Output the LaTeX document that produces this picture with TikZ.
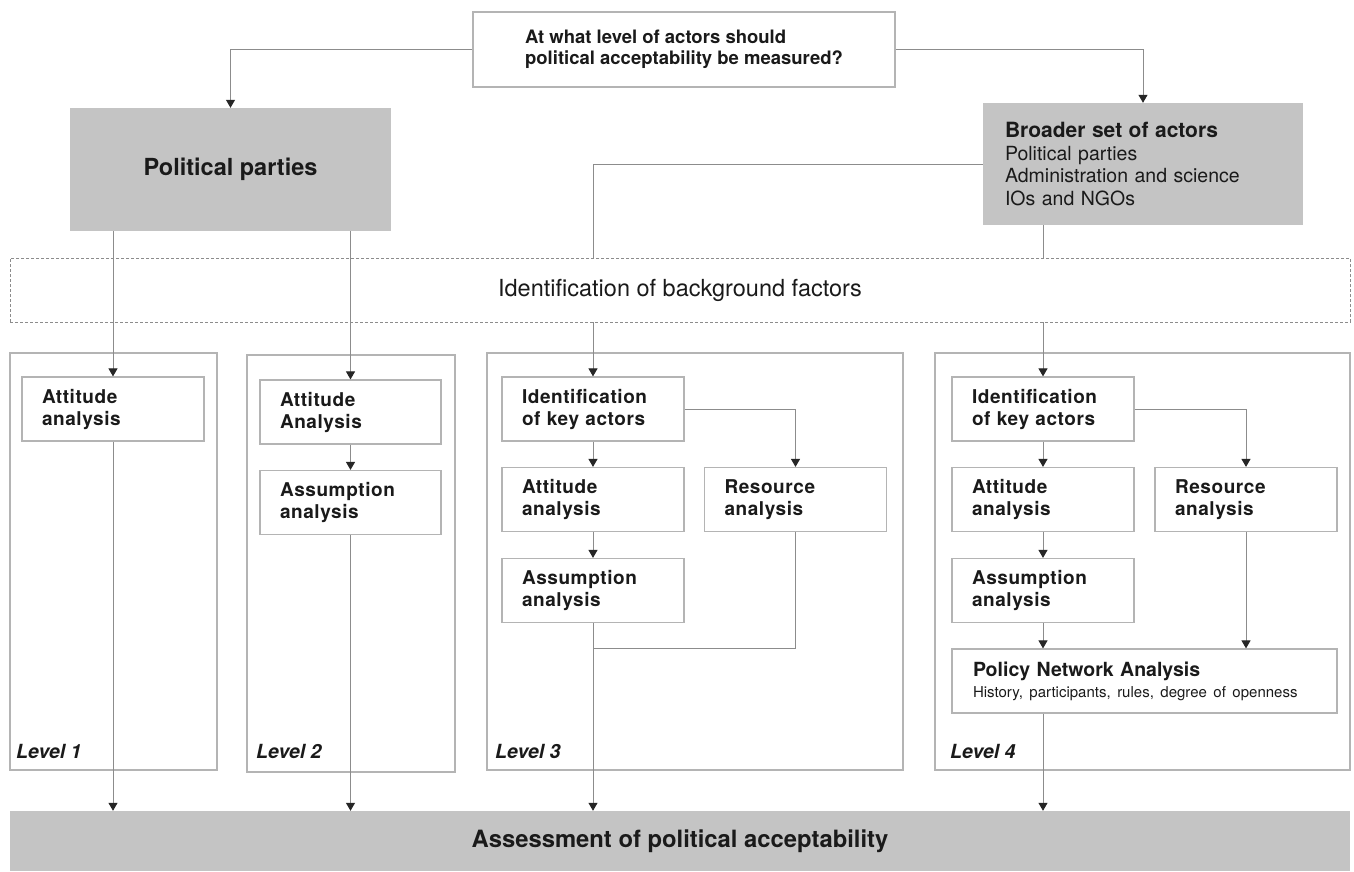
\documentclass[tikz,border=0pt]{standalone}
\usepackage{fontspec}
\setmainfont{TeX Gyre Heros}
\newfontfamily\boxfont[LetterSpace=3]{TeX Gyre Heros}
\usetikzlibrary{arrows.meta}
\definecolor{boxline}{HTML}{B4B4B4}
\definecolor{connc}{HTML}{8C8C8C}
\definecolor{fillg}{HTML}{C4C4C4}
\definecolor{txt}{HTML}{1A1A1A}
\tikzset{
  box/.style={draw=boxline, line width=1.2pt, fill=white, minimum width=182pt, minimum height=64pt,
    text width=142pt, inner xsep=20pt, inner ysep=0pt, align=left, text=txt,
    font=\boxfont\fontsize{19}{22}\selectfont\bfseries},
  grey/.style={fill=fillg, draw=none, text=txt, inner sep=0pt},
  levelbox/.style={draw=boxline, line width=1.2pt},
  conn/.style={draw=connc, line width=1pt},
  arr/.style={conn, -{Triangle[width=9pt,length=8pt,color=black!85]}},
  lvl/.style={anchor=base west, inner sep=0pt, text=txt, font=\fontsize{19.5}{22}\selectfont\bfseries\itshape}
}
\begin{document}
\begin{tikzpicture}[x=1pt,y=-1pt]
\useasboundingbox (0,0) rectangle (1354,871);

% top question
\node[draw=boxline, line width=1.2pt, fill=white, minimum width=422pt, minimum height=75pt, inner sep=0pt,
  align=left, text=txt, font=\fontsize{18.5}{21}\selectfont\bfseries] (top) at (684,49.5)
  {At what level of actors should\\political acceptability be measured?};

% political parties
\node[grey, minimum width=321pt, minimum height=123pt, font=\fontsize{23.5}{26}\selectfont\bfseries] (pp) at (230.5,169.5) {Political parties};

% broader set
\node[grey, minimum width=320pt, minimum height=122pt, text width=276pt, inner xsep=22pt, align=left,
  font=\fontsize{19.5}{22.5}\selectfont] (broad) at (1143,164)
  {{\fontsize{21}{22.5}\selectfont\bfseries Broader set of actors}\\Political parties\\Administration and science\\IOs and NGOs};

% background factors band
\node[draw=connc, line width=0.9pt, dash pattern=on 3pt off 2pt, minimum width=1340pt, minimum height=64pt,
  inner sep=0pt, text=txt, font=\fontsize{23.5}{26}\selectfont] (bg) at (680,290) {Identification of background factors};

% level frames
\draw[levelbox] (10,353) rectangle (217,770);
\draw[levelbox] (247,355) rectangle (455,772);
\draw[levelbox] (487,353) rectangle (903,770);
\draw[levelbox] (935,353) rectangle (1350,770);

\node[lvl] (lab1) at (16,758) {Level 1};
\node[lvl] (lab2) at (256,758) {Level 2};
\node[lvl] (lab3) at (495,758) {Level 3};
\node[lvl] (lab4) at (950,758) {Level 4};

% level 1
\node[box] (l1att) at (113,409) {Attitude\\analysis};
% level 2
\node[box, minimum width=181pt, text width=141pt] (l2att) at (350.5,412) {Attitude\\Analysis};
\node[box, minimum width=181pt, text width=141pt] (l2ass) at (350.5,502.5) {Assumption\\analysis};
% level 3
\node[box] (l3id) at (593,409) {Identification\\of key actors};
\node[box] (l3att) at (593,499.5) {Attitude\\analysis};
\node[box] (l3ass) at (593,590.5) {Assumption\\analysis};
\node[box] (l3res) at (795.5,499.5) {Resource\\analysis};
% level 4
\node[box] (l4id) at (1043,409) {Identification\\of key actors};
\node[box] (l4att) at (1043,499.5) {Attitude\\analysis};
\node[box] (l4ass) at (1043,590.5) {Assumption\\analysis};
\node[box] (l4res) at (1246,499.5) {Resource\\analysis};
\node[box, minimum width=385pt, text width=343pt, inner xsep=21pt, font=\rmfamily\fontsize{19.5}{22}\selectfont] (pna) at (1144.5,681)
  {{\bfseries Policy Network Analysis}\\[-1pt]{\fontsize{15}{17}\selectfont History, participants, rules, degree of openness}};

% final band
\node[grey, minimum width=1340pt, minimum height=60pt, font=\fontsize{23.8}{26}\selectfont\bfseries] (final) at (680,841) {Assessment of political acceptability};

% connectors: top
\draw[arr] (top.west) -| (pp.north);
\draw[arr] (top.east) -| (broad.north);

% political parties to levels 1 and 2
\draw[arr] (pp.south -| l1att.north) -- (l1att.north);
\draw[arr] (pp.south -| l2att.north) -- (l2att.north);

% broader set to levels 3 and 4 (interrupted by band)
\draw[conn] (broad.west) -| (bg.north -| l3id.north);
\draw[arr] (bg.south -| l3id.north) -- (l3id.north);
\draw[conn] (broad.south -| l4id.north) -- (bg.north -| l4id.north);
\draw[arr] (bg.south -| l4id.north) -- (l4id.north);

% level 1
\draw[arr] (l1att.south) -- (l1att.south |- final.north);
% level 2
\draw[arr] (l2att) -- (l2ass);
\draw[arr] (l2ass.south) -- (l2ass.south |- final.north);
% level 3
\draw[arr] (l3id) -- (l3att);
\draw[arr] (l3att) -- (l3ass);
\draw[arr] (l3id.east) -| (l3res.north);
\coordinate (j3) at (593,648);
\draw[conn] (l3res.south) |- (j3);
\draw[arr] (l3ass.south) -- (l3ass.south |- final.north);
% level 4
\draw[arr] (l4id) -- (l4att);
\draw[arr] (l4att) -- (l4ass);
\draw[arr] (l4id.east) -| (l4res.north);
\draw[arr] (l4ass.south) -- (l4ass.south |- pna.north);
\draw[arr] (l4res.south) -- (l4res.south |- pna.north);
\draw[arr] (pna.south -| l4ass.south) -- (l4ass.south |- final.north);
\end{tikzpicture}
\end{document}
